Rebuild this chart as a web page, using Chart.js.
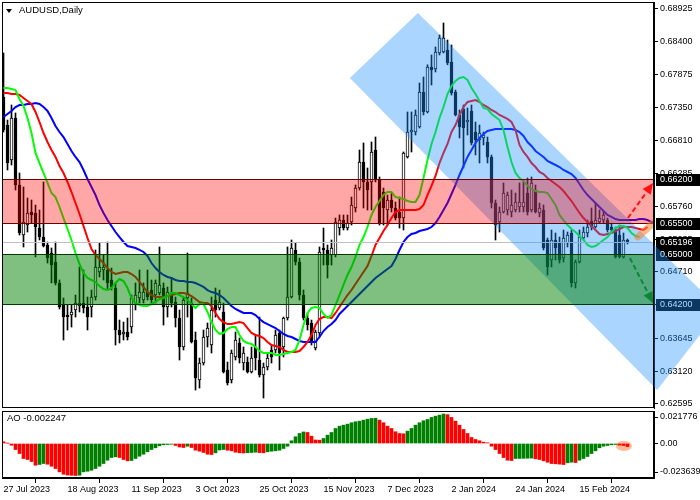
<!DOCTYPE html>
<html><head><meta charset="utf-8">
<script src="https://cdn.jsdelivr.net/npm/chart.js@4.4.1/dist/chart.umd.min.js"></script>
<style>
html,body{margin:0;padding:0;background:#fff;}
#wrap{position:relative;width:700px;height:500px;overflow:hidden;background:#fff;}
canvas{position:absolute;left:0;}
#main{top:0;}
#ao{top:410px;}
.lbl{position:absolute;font-family:"Liberation Sans",Arial,sans-serif;font-size:9.5px;color:#000;line-height:10px;white-space:nowrap;}
#title{left:19px;top:5px;}
#tri{position:absolute;left:6px;top:9px;width:0;height:0;border-left:3.5px solid transparent;border-right:3.5px solid transparent;border-top:4px solid #000;}
#aolbl{left:7px;top:413px;}
</style></head><body>
<div id="wrap">
<canvas id="main" width="700" height="410"></canvas>
<canvas id="ao" width="700" height="90"></canvas>
<div id="tri"></div>
<div class="lbl" id="title"></div>
<div class="lbl" id="aolbl"></div>
</div>
<script>
const symbol = 'AUDUSD', timeframe = 'Daily';
const tickLabels = ['27 Jul 2023','18 Aug 2023','11 Sep 2023','3 Oct 2023','25 Oct 2023','15 Nov 2023','7 Dec 2023','2 Jan 2024','24 Jan 2024','15 Feb 2024'];
const tickStep = 16;
const priceTicks = [0.62595,0.63120,0.63645,0.64185,0.64710,0.65235,0.65760,0.66285,0.66810,0.67350,0.67875,0.68400,0.68925];
const aoTickLabels = ['-0.023639','0.00','0.021776'];
const levels = [0.66200,0.65500,0.65000,0.64200];
const redBand = [0.65500,0.66200];
const greenBand = [0.64200,0.65000];

const open = [
.67514,.67065,.66504,.67178,.66104,.65302,.65462,.65671,.65655,.65414,
.6527,.65142,.65014,.64869,.64533,.6418,.6402,.6402,.641,.64164,
.64212,.64148,.64148,.64308,.64709,.64741,.64741,.64581,.64452,.63779,
.63715,.63747,.63827,.64212,.64292,.6426,.64388,.6442,.6434,.64372,
.64452,.64148,.64372,.64228,.63971,.63507,.64292,.64212,.63619,.62978,
.6325,.63667,.63539,.6426,.64132,.64068,.63138,.62978,.63347,.63571,
.6325,.63266,.63106,.63507,.63298,.63058,.63186,.63459,.63459,.63731,
.63507,.63971,.64308,.65062,.64869,.6434,.63971,.63891,.63491,.63731,
.65094,.65062,.64982,.64982,.65414,.65542,.65414,.6551,.65735,.66055,
.66472,.66152,.66152,.66665,.66184,.65991,.65703,.65863,.65735,.65671,
.65574,.66552,.66953,.66953,.67033,.67594,.67274,.67995,.67963,.6822,
.68236,.68268,.68075,.67594,.67226,.67322,.67113,.6729,.66953,.66825,
.66857,.66793,.66552,.65815,.6551,.65671,.65703,.65671,.65703,.65751,
.65751,.65975,.65703,.66023,.65655,.65703,.65222,.64901,.65222,.6519,
.64933,.65174,.65334,.64533,.64869,.65254,.65334,.65526,.6543,.6551,
.65542,.65542,.6543,.65382,.65302,.6495,.65222];
const high = [
.6822,.67145,.67386,.67258,.66296,.66072,.65895,.65863,.65783,.65703,
.66152,.6519,.65094,.6519,.64581,.64292,.6418,.6418,.6434,.64789,
.64741,.64308,.6442,.65062,.65174,.64982,.6519,.64773,.64533,.63939,
.63907,.63971,.6434,.64533,.64741,.64533,.64741,.64581,.64581,.6511,
.64533,.64469,.64613,.64308,.641,.64308,.65014,.64292,.63747,.6333,
.63779,.63891,.64308,.64452,.6442,.64212,.63266,.63459,.63747,.63651,
.63507,.63347,.63507,.63699,.63987,.6325,.63411,.63539,.63779,.63779,
.63987,.6511,.65222,.65174,.64933,.6442,.64052,.63939,.63779,.6511,
.65414,.65142,.65222,.65574,.65623,.65623,.65623,.65911,.66104,.66665,
.66777,.66376,.66793,.66873,.66232,.66055,.65943,.65975,.65831,.65911,
.66633,.67274,.67274,.67306,.67739,.67835,.6803,.68188,.68316,.68508,
.687,.68428,.68348,.67626,.67306,.67386,.67338,.67386,.67113,.67065,
.66953,.66873,.66584,.65863,.65751,.66136,.65991,.66023,.65975,.66136,
.66152,.66216,.66232,.66104,.65815,.65783,.65254,.65382,.65334,.6527,
.65382,.6535,.65382,.64901,.65382,.6543,.65542,.65735,.65815,.65703,
.65671,.65574,.65494,.6543,.65462,.65334,.65238];
const low = [
.66953,.66344,.66424,.66023,.65302,.6511,.6535,.65494,.6495,.65222,
.6511,.64853,.64533,.64501,.64116,.63619,.63779,.63827,.63987,.64068,
.64052,.63779,.63987,.6426,.64629,.64581,.6442,.6442,.63539,.63571,
.63619,.63619,.63731,.641,.64212,.64212,.6426,.64212,.64212,.6434,
.63859,.63987,.64148,.63827,.63298,.63459,.63987,.63571,.62817,.62849,
.63218,.63507,.63411,.63987,.641,.6309,.62898,.6293,.63298,.6325,
.63138,.6309,.6309,.63138,.63026,.62689,.63138,.6325,.63411,.63138,
.63347,.63939,.64292,.64821,.6426,.63939,.63779,.63539,.63459,.63667,
.64821,.64613,.64821,.6495,.65302,.65382,.65382,.65462,.65671,.66023,
.65735,.65703,.65703,.66152,.65462,.65462,.65462,.65671,.65542,.65414,
.65382,.66536,.66633,.66905,.67017,.67226,.67258,.67707,.67915,.68188,
.6822,.6803,.67546,.6721,.66857,.66376,.66905,.66745,.66585,.66456,
.66745,.66456,.65735,.65222,.6535,.65655,.65623,.65591,.65671,.65671,
.65671,.65623,.65671,.65655,.65591,.65062,.64661,.64789,.64901,.64853,
.64869,.6511,.64468,.64452,.64853,.65222,.6527,.65382,.65414,.65494,
.65494,.6535,.65334,.64933,.64933,.64933,.65158];
const close = [
.66985,.66456,.67178,.66104,.65334,.6551,.65655,.65623,.6543,.6527,
.65126,.64933,.64821,.64533,.64148,.63987,.63987,.64068,.64212,.64212,
.64132,.63987,.64308,.64789,.64789,.64789,.64533,.64469,.63779,.63699,
.63747,.63667,.64292,.6434,.64388,.64388,.64308,.6426,.64533,.64501,
.64148,.64388,.64212,.63971,.63507,.6426,.64372,.63587,.6301,.6325,
.63667,.63811,.641,.641,.64228,.63106,.6293,.63411,.63619,.63331,
.63411,.63106,.63331,.63331,.63058,.63186,.63331,.63347,.63699,.63411,
.63971,.64308,.65094,.64869,.6434,.63971,.63859,.63571,.63747,.6503,
.65062,.64821,.65094,.6551,.65542,.65414,.65494,.65783,.66055,.66472,
.66152,.66023,.66633,.66184,.65494,.65735,.65863,.65735,.65574,.65574,
.66617,.66953,.66985,.67226,.67594,.67274,.67995,.67947,.68236,.6846,
.6846,.68059,.67578,.67226,.67033,.67017,.67145,.66777,.66825,.66937,
.66905,.66552,.65815,.65462,.65671,.65975,.65943,.65783,.65831,.65831,
.65831,.65671,.66136,.65671,.65735,.65094,.64789,.65222,.65094,.64901,
.65254,.65302,.64533,.64869,.6527,.6535,.6543,.6543,.65542,.65574,
.65623,.65382,.65382,.6495,.6495,.65222,.65196];
// Alligator: jaw (blue), teeth (red), lips (green) - drawn shifted forward
const jaw = [
.67194,.67242,.6729,.67354,.67386,.67386,.67402,.67402,.67418,.67402,
.67354,.6729,.67178,.67049,.66953,.66873,.66761,.66649,.66553,.66472,
.66344,.662,.66072,.65943,.65783,.65655,.65542,.65446,.6535,.6527,
.6519,.65126,.6511,.65094,.65062,.6503,.64966,.64853,.64773,.64709,
.64661,.64629,.64613,.64581,.64565,.64565,.64549,.64549,.64533,.64501,
.64469,.6442,.64388,.64372,.6434,.64292,.64228,.64164,.64116,.64084,
.64052,.64052,.64052,.6402,.63956,.63907,.63875,.63843,.63811,.63763,
.63715,.63683,.63667,.63635,.63603,.63587,.63587,.63587,.63587,.63667,
.63763,.63827,.63875,.63939,.64036,.641,.64164,.64228,.64292,.64356,
.6442,.64485,.64549,.64613,.64661,.64709,.64757,.64805,.64918,.65062,
.6519,.6527,.65318,.65334,.65366,.65382,.65398,.6543,.65494,.6559,
.65703,.65815,.65959,.66104,.66264,.66408,.66553,.66665,.66777,.66857,
.66921,.66969,.66985,.67001,.67001,.67001,.67001,.67001,.66985,.66953,
.66889,.66793,.66729,.66649,.66601,.66553,.66488,.66456,.66424,.66392,
.66344,.66312,.6628,.66216,.6612,.66023,.65943,.65879,.65815,.65751,
.65687,.65623,.65591,.65558,.65542,.65542,.65542,.65542,.65542,.65558,
.65558,.65542,.6551,.65494];
const teeth = [
.67578,.67578,.67562,.67562,.67546,.67498,.6745,.67402,.67274,.67113,
.66937,.66793,.66665,.66553,.66408,.66296,.66152,.65991,.65815,.65639,
.65446,.65254,.65078,.64982,.64918,.64853,.64773,.64709,.64677,.64693,
.64709,.64709,.64677,.64629,.64549,.64469,.64388,.6434,.64308,.64308,
.64308,.64324,.6434,.64356,.64372,.64372,.64356,.64324,.64276,.64228,
.64212,.64212,.64164,.64052,.63956,.63907,.63875,.63875,.63891,.63907,
.63891,.63811,.63731,.63699,.63683,.63651,.63587,.63539,.63523,.63507,
.63459,.63427,.63427,.63427,.63443,.63507,.63587,.63699,.63859,.63956,
.63987,.63987,.63971,.64052,.64148,.64244,.6434,.6442,.64517,.64613,
.64709,.64805,.64966,.65142,.65254,.65366,.65462,.65574,.65671,.65703,
.65703,.65703,.65703,.65703,.65719,.65783,.65943,.66088,.66248,.66456,
.66617,.66761,.66953,.67065,.67226,.67354,.67434,.6745,.67466,.67434,
.67386,.67354,.67306,.67274,.67226,.67194,.67162,.67113,.66985,.66745,
.66633,.66553,.66456,.66392,.66312,.6628,.66216,.66168,.6612,.66072,
.66007,.65927,.65847,.65751,.65655,.65574,.6551,.65446,.65382,.65318,
.65302,.65318,.65334,.65366,.65398,.6543,.6543,.6543,.65414,.65398,
.65382,.6543];
const lips = [
.67658,.67658,.67642,.67626,.67482,.6737,.67178,.66937,.66617,.66456,
.66296,.66136,.65975,.65911,.65751,.65574,.65398,.65222,.65014,.64837,
.64693,.64613,.64581,.64549,.64485,.64436,.6442,.64452,.64533,.64597,
.64565,.64452,.64292,.64212,.6418,.64164,.64164,.64196,.64228,.64276,
.64292,.64324,.64372,.64372,.6434,.64308,.6426,.64196,.64132,.64196,
.64196,.64068,.63907,.63779,.63715,.63731,.63795,.63827,.63827,.63699,
.63603,.63571,.63555,.63507,.63443,.63411,.63411,.63411,.63379,.63379,
.63395,.63411,.63427,.63459,.63619,.63859,.64052,.64132,.64148,.64132,
.64036,.63971,.6402,.6418,.6434,.64501,.64661,.64789,.6495,.65142,
.6527,.6543,.65623,.65751,.65847,.65943,.65991,.65991,.65911,.65895,
.65879,.65847,.65831,.65831,.65943,.66216,.66504,.66761,.66953,.67178,
.67354,.67562,.67691,.67771,.67819,.67835,.67787,.67658,.67562,.6745,
.67338,.67322,.67242,.67194,.67145,.66985,.66713,.66472,.66296,.66216,
.66168,.66088,.6604,.66007,.65991,.65991,.65975,.65879,.65783,.65623,
.65542,.65462,.65398,.6535,.65286,.65222,.65142,.6511,.65126,.65174,
.65222,.6527,.6535,.65414,.65446,.65446,.65414,.65334,.65286,.6527];
const ao = [
.00126,.00022,-.00126,-.00444,-.0074,-.0111,-.01184,-.01332,-.01606,-.01554,
-.0148,-.01532,-.0168,-.0185,-.02094,-.02272,-.02331,-.02353,-.023639,-.02346,
-.02094,-.0205,-.01976,-.0185,-.0168,-.0148,-.01236,-.01036,-.00984,-.01036,
-.01184,-.0128,-.01258,-.0111,-.0094,-.00792,-.00614,-.00444,-.00318,-.0017,
-.00096,-.00074,-.00052,-.00148,-.00259,-.00296,-.002,-.00296,-.00496,-.0057,
-.00666,-.00792,-.00814,-.00688,-.00481,-.00444,-.00496,-.0054,-.00644,-.00688,
-.00703,-.00681,-.00666,-.00644,-.00673,-.00688,-.00614,-.0057,-.0054,-.00496,
-.0037,-.002,.002,.00496,.0074,.00851,.00814,.0054,.00259,.00244,
.0037,.00614,.00814,.0111,.0128,.01354,.01428,.01532,.01606,.0165,
.01724,.01798,.0185,.01865,.01724,.01532,.0128,.0111,.00866,.0074,
.00718,.0091,.0111,.01354,.01532,.0168,.01776,.01924,.0202,.02094,
.021776,.02131,.01924,.0165,.01354,.01036,.0074,.00444,.00296,.002,
.00096,.00052,-.002,-.00444,-.0074,-.01036,-.01236,-.01258,-.0111,-.01103,
-.01095,-.01088,-.0108,-.01132,-.01184,-.0128,-.01384,-.0148,-.01502,-.01524,
-.01554,-.01428,-.01384,-.01406,-.01236,-.0111,-.00962,-.0074,-.0054,-.00318,
-.002,-.00148,-.00096,-.00074,-.00118,-.00148,-.002247];

// Drawn objects, in (bar index, price) coordinates
const channel = [[86.6,0.67819],[103.6,0.68861],[179.1,0.64116],[163.4,0.62817]];
const upArrow = [[156.1,0.65574],[162.4,0.66136]];
const downArrow = [[156.6,0.64933],[162.4,0.64212]];
const orangeMark = [[158.6,0.65270],[162.4,0.65494]];
const aoMark = [155.1,-0.00185];

const xMin = -0.375, xMax = 162.625;
const yMin = 0.62529, yMax = 0.69037;
const aoMin = -0.02549, aoMax = 0.0240;
const lastPrice = close[close.length-1];
const FONT = {family:'"Liberation Sans", Arial, sans-serif', size:9};

document.getElementById('title').textContent = symbol + ',' + timeframe;
document.getElementById('aolbl').textContent = 'AO ' + ao[ao.length-1];

const idx = a => a.map((v,i)=>({x:i,y:v}));

function drawArrow(ctx, p1, p2, color){
  const [x1,y1]=p1,[x2,y2]=p2;
  const ang = Math.atan2(y2-y1,x2-x1), L=11, W=5;
  const bx = x2-L*Math.cos(ang), by = y2-L*Math.sin(ang);
  ctx.strokeStyle=color; ctx.lineWidth=2; ctx.setLineDash([5,3]);
  ctx.beginPath(); ctx.moveTo(x1,y1); ctx.lineTo(bx,by); ctx.stroke();
  ctx.setLineDash([]);
  ctx.fillStyle=color; ctx.beginPath(); ctx.moveTo(x2,y2);
  ctx.lineTo(bx+W*Math.sin(ang), by-W*Math.cos(ang));
  ctx.lineTo(bx-W*Math.sin(ang), by+W*Math.cos(ang));
  ctx.closePath(); ctx.fill();
}

const mainOverlay = {
  id:'mainOverlay',
  afterDatasetsDraw(chart){
    const {ctx, chartArea:a, scales:{x,y}} = chart;
    const px = ([i,p]) => [x.getPixelForValue(i), y.getPixelForValue(p)];
    const W = chart.width;
    ctx.save();
    // inside plot
    ctx.save();
    ctx.beginPath(); ctx.rect(a.left,a.top,a.right-a.left,a.bottom-a.top); ctx.clip();
    const yc = Math.round(y.getPixelForValue(lastPrice))+0.5;
    ctx.strokeStyle='#c0c0c0'; ctx.lineWidth=1;
    ctx.beginPath(); ctx.moveTo(a.left,yc); ctx.lineTo(a.right,yc); ctx.stroke();
    drawArrow(ctx, px(upArrow[0]), px(upArrow[1]), '#ff1a1a');
    drawArrow(ctx, px(downArrow[0]), px(downArrow[1]), '#138a13');
    ctx.restore();
    // level boxes on price scale
    ctx.font = '9px "Liberation Sans", Arial, sans-serif';
    ctx.textBaseline='middle'; ctx.textAlign='left';
    levels.concat([lastPrice]).forEach(v=>{
      const yy = y.getPixelForValue(v);
      ctx.fillStyle='#000';
      ctx.fillRect(a.right+2, Math.round(yy)-5, W-a.right-2, 12);
      ctx.fillStyle='#fff';
      ctx.fillText(v.toFixed(5), a.right+6, yy+0.5);
    });
    // channel (extends over the price scale)
    ctx.save();
    ctx.beginPath(); ctx.rect(a.left,a.top,W-a.left,a.bottom-a.top); ctx.clip();
    ctx.fillStyle='rgba(30,144,255,0.38)';
    ctx.beginPath();
    channel.forEach((c,k)=>{const [X,Y]=px(c); k?ctx.lineTo(X,Y):ctx.moveTo(X,Y);});
    ctx.closePath(); ctx.fill();
    ctx.restore();
    // bands
    ctx.save();
    ctx.beginPath(); ctx.rect(a.left,a.top,a.right-a.left,a.bottom-a.top); ctx.clip();
    const band = (b, fill, edge) => {
      const y1 = Math.round(y.getPixelForValue(b[1])), y2 = Math.round(y.getPixelForValue(b[0]));
      ctx.fillStyle = fill; ctx.fillRect(a.left, y1, a.right-a.left, y2-y1);
      ctx.strokeStyle = edge; ctx.lineWidth = 1;
      ctx.beginPath();
      ctx.moveTo(a.left, y1+0.5); ctx.lineTo(a.right, y1+0.5);
      ctx.moveTo(a.left, y2+0.5); ctx.lineTo(a.right, y2+0.5);
      ctx.stroke();
    };
    band(redBand, 'rgba(255,0,0,0.35)', '#700000');
    band(greenBand, 'rgba(0,128,0,0.5)', '#003c00');
    // orange mark
    const [o1,o2] = [px(orangeMark[0]), px(orangeMark[1])];
    ctx.strokeStyle='rgba(255,125,45,0.55)'; ctx.lineWidth=7; ctx.lineCap='round';
    ctx.beginPath(); ctx.moveTo(o1[0],o1[1]); ctx.lineTo(o2[0],o2[1]); ctx.stroke();
    ctx.restore();
    ctx.restore();
  },
  afterDraw(chart){
    const {ctx, chartArea:a} = chart;
    ctx.save(); ctx.strokeStyle='#000'; ctx.lineWidth=1;
    ctx.strokeRect(a.left+0.5, a.top+0.5, a.right-a.left-1, a.bottom-a.top-1);
    ctx.restore();
  }
};

new Chart(document.getElementById('main'), {
  type:'bar',
  data:{datasets:[
    {type:'line', data:idx(lips), borderColor:'#00ff00', borderWidth:2, pointRadius:0, tension:0, order:0},
    {type:'line', data:idx(teeth), borderColor:'#ff0000', borderWidth:2, pointRadius:0, tension:0, order:1},
    {type:'line', data:idx(jaw), borderColor:'#0000ff', borderWidth:2, pointRadius:0, tension:0, order:2},
    {type:'bar', data:open.map((o,i)=>({x:i,y:[o,close[i]]})),
     backgroundColor:open.map((o,i)=>close[i]>=o?'#ffffff':'#000000'),
     borderColor:'#000', borderWidth:1, borderSkipped:false, grouped:false,
     barThickness:3, maxBarThickness:3, barPercentage:1, categoryPercentage:1, minBarLength:1, order:3},
    {type:'bar', data:low.map((l,i)=>({x:i,y:[l,high[i]]})),
     backgroundColor:'#000', borderWidth:0, grouped:false,
     barThickness:1, maxBarThickness:1, barPercentage:1, categoryPercentage:1, order:4}
  ]},
  options:{
    responsive:false, animation:false, events:[],
    layout:{padding:{left:2,top:2,right:0,bottom:2}},
    plugins:{legend:{display:false}, tooltip:{enabled:false}},
    scales:{
      x:{type:'linear', min:xMin, max:xMax, display:false, offset:false},
      y:{type:'linear', position:'right', min:yMin, max:yMax,
         afterBuildTicks: s => { s.ticks = priceTicks.map(v=>({value:v})); },
         afterFit: s => { s.width = 46; s.paddingTop = 0; s.paddingBottom = 0; },
         ticks:{autoSkip:false, font:FONT, color:'#000', padding:2, callback:v=>Number(v).toFixed(5)},
         grid:{drawOnChartArea:false, drawTicks:true, tickLength:4, color:'#000'},
         border:{display:true, color:'#000'}}
    }
  },
  plugins:[mainOverlay]
});

const aoOverlay = {
  id:'aoOverlay',
  beforeDatasetsDraw(chart){
    const {ctx, scales:{x,y}} = chart;
    ctx.save();
    ctx.fillStyle='rgba(250,140,80,0.6)';
    ctx.beginPath();
    ctx.ellipse(x.getPixelForValue(aoMark[0]), y.getPixelForValue(aoMark[1]), 8, 5, 0, 0, Math.PI*2);
    ctx.fill(); ctx.restore();
  },
  afterDraw(chart){
    const {ctx, chartArea:a} = chart;
    ctx.save(); ctx.strokeStyle='#000'; ctx.lineWidth=1;
    ctx.strokeRect(a.left+0.5, a.top+0.5, a.right-a.left-1, a.bottom-a.top-1);
    ctx.restore();
  }
};

new Chart(document.getElementById('ao'), {
  type:'bar',
  data:{datasets:[{data:idx(ao),
    backgroundColor:ao.map((v,i)=> i>0 && v>ao[i-1] ? '#008000' : '#ff0000'),
    borderWidth:0, barThickness:3, maxBarThickness:3}]},
  options:{
    responsive:false, animation:false, events:[],
    layout:{padding:{left:2,top:1,right:0,bottom:0}},
    plugins:{legend:{display:false}, tooltip:{enabled:false}},
    scales:{
      x:{type:'linear', min:xMin, max:xMax, offset:false,
         afterBuildTicks: s => { s.ticks = tickLabels.map((_,k)=>({value:k*tickStep})); },
         afterFit: s => { s.height = 22; s.paddingLeft = 0; s.paddingRight = 0; },
         ticks:{autoSkip:false, maxRotation:0, minRotation:0, align:'start', padding:1, font:FONT, color:'#000',
                callback:(v,k)=>tickLabels[k]},
         grid:{drawOnChartArea:false, drawTicks:true, tickLength:5, color:'#000'},
         border:{display:true, color:'#000'}},
      y:{type:'linear', position:'right', min:aoMin, max:aoMax,
         afterBuildTicks: s => { const k = (s.max-s.min)*6/67; s.ticks = [{value:s.min+k},{value:0},{value:s.max-k}]; },
         afterFit: s => { s.width = 46; s.paddingTop = 0; s.paddingBottom = 0; },
         ticks:{autoSkip:false, font:FONT, color:'#000', padding:2, callback:(v,k)=>aoTickLabels[k]},
         grid:{drawOnChartArea:false, drawTicks:true, tickLength:4, color:'#000'},
         border:{display:true, color:'#000'}}
    }
  },
  plugins:[aoOverlay]
});
</script>
</body></html>
